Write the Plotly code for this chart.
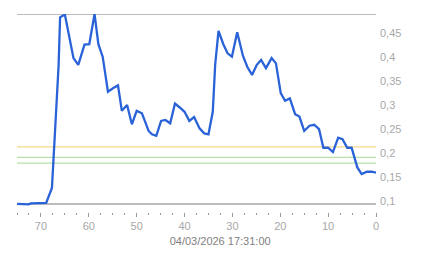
import plotly.graph_objects as go

# time offsets (units before the timestamp) and measured values
t = [75, 74, 72.6, 72.1, 68.9, 67.7, 67.4, 66.8, 66.3, 66, 65, 63.2, 62.2, 60.9, 59.9, 58.8, 58, 57.1,
     56, 54.8, 53.9, 53.1, 52, 51, 50, 48.9, 47.5, 46.8, 45.9, 44.9, 44, 43, 42, 41, 40, 39, 38, 36.9,
     35.9, 35, 34.1, 33.6, 32.9, 31.9, 31, 30.1, 29, 27.8, 26.9, 25.9, 24.9, 24, 23, 21.8, 20.9, 19.9,
     19, 18, 16.9, 16, 15, 13.9, 12.9, 11.9, 11, 10, 9, 7.9, 7, 6, 5.1, 3.9, 3, 1.9, 0.9, 0]
values = [0.094, 0.093, 0.093, 0.095, 0.096, 0.127, 0.189, 0.293, 0.384, 0.483, 0.489, 0.398, 0.384,
          0.426, 0.427, 0.49, 0.427, 0.401, 0.328, 0.336, 0.341, 0.288, 0.300, 0.260, 0.288, 0.283,
          0.246, 0.239, 0.236, 0.267, 0.269, 0.262, 0.303, 0.295, 0.286, 0.267, 0.275, 0.252, 0.241,
          0.239, 0.286, 0.384, 0.455, 0.427, 0.408, 0.401, 0.452, 0.403, 0.380, 0.363, 0.384, 0.394,
          0.377, 0.398, 0.387, 0.325, 0.309, 0.314, 0.281, 0.276, 0.246, 0.257, 0.259, 0.250, 0.211,
          0.211, 0.202, 0.232, 0.229, 0.211, 0.211, 0.170, 0.156, 0.161, 0.161, 0.159]

max_min_levels = [0.49, 0.0937]
threshold_levels = [0.213, 0.191, 0.179]
threshold_colors = ["#f3d88a", "#b8e0a8", "#b8e0a8"]

y_tickvals = [0.1, 0.15, 0.2, 0.25, 0.3, 0.35, 0.4, 0.45]
y_ticktext = ["0,1", "0,15", "0,2", "0,25", "0,3", "0,35", "0,4", "0,45"]
x_tickvals = [70, 60, 50, 40, 30, 20, 10, 0]
x_ticktext = ["70", "60", "50", "40", "30", "20", "10", "0"]
timestamp = "04/03/2026 17:31:00"

fig = go.Figure()

for lvl in max_min_levels:
    fig.add_shape(type="line", xref="paper", x0=0, x1=1, yref="y", y0=lvl, y1=lvl,
                  line=dict(color="#7a7a7a", width=1.2), layer="below")
for lvl, col in zip(threshold_levels, threshold_colors):
    fig.add_shape(type="line", xref="paper", x0=0, x1=1, yref="y", y0=lvl, y1=lvl,
                  line=dict(color=col, width=1.2), layer="below")

fig.add_trace(go.Scatter(x=t, y=values, mode="lines",
                         line=dict(color="#2a62d8", width=2.3), hoverinfo="skip"))

fig.update_layout(
    width=443, height=258,
    margin=dict(l=17, r=67, t=14, b=46),
    paper_bgcolor="white", plot_bgcolor="white",
    showlegend=False,
    font=dict(family="Liberation Sans, Arial, sans-serif", size=11, color="#a0a0a0"),
    title=dict(text=timestamp, xref="container", x=0.497, xanchor="center",
               yref="container", y=1 - 241 / 258, yanchor="middle",
               font=dict(size=11, color="#808080")),
    xaxis=dict(range=[75, 0], showgrid=False, zeroline=False, showline=False,
               tickmode="array", tickvals=x_tickvals, ticktext=x_ticktext,
               ticks="outside", ticklen=4, tickcolor="#9a9a9a", tickwidth=1,
               minor=dict(dtick=2.5, tick0=0, ticks="outside", ticklen=2,
                          tickcolor="#9a9a9a", tickwidth=1, showgrid=False),
               tickfont=dict(size=11, color="#a8a8a8")),
    yaxis=dict(range=[0.077, 0.49], side="right", showgrid=False, zeroline=False,
               showline=False, tickmode="array", tickvals=y_tickvals, ticktext=y_ticktext,
               ticks="", ticklabelstandoff=3, tickfont=dict(size=11, color="#a8a8a8")),
)

fig.write_html("out.html")
